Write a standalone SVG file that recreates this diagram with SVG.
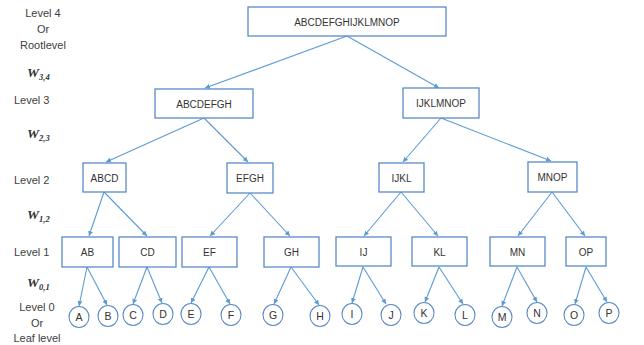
<svg xmlns="http://www.w3.org/2000/svg" width="644" height="345" viewBox="0 0 644 345">
<defs>
<marker id="ah" markerUnits="userSpaceOnUse" markerWidth="6" markerHeight="6" refX="5" refY="3" orient="auto">
<path d="M0,0.5 L5,3 L0,5.5 Z" fill="#5b9bd5"/>
</marker>
<style>
.box{fill:#fff;stroke:#5a8ac6;stroke-width:1.3}
.leaf{fill:#fff;stroke:#5a8ac6;stroke-width:1.1}
.t{font-family:"Liberation Sans",Arial,sans-serif;font-size:10px;fill:#333;text-anchor:middle;dominant-baseline:central}
.lt{font-size:10.5px}
.lbl{font-family:"Liberation Sans",Arial,sans-serif;font-size:11px;fill:#404040}
.c{text-anchor:middle}
.w{font-family:"Liberation Serif","Times New Roman",serif;font-style:italic;font-weight:bold;fill:#333}
.conn line{stroke:#5b9bd5;stroke-width:1.1;marker-end:url(#ah)}
</style>
</defs>
<rect width="644" height="345" fill="#fff"/>

<g id="labels">
<text class="lbl c" x="43" y="17">Level 4</text>
<text class="lbl c" x="43" y="33">Or</text>
<text class="lbl c" x="43" y="49">Rootlevel</text>
<text class="w" x="27" y="77" font-size="13.5">W<tspan font-size="8.5" dy="2.5">3,4</tspan></text>
<text class="lbl" x="14" y="104">Level 3</text>
<text class="w" x="27" y="138" font-size="13.5">W<tspan font-size="8.5" dy="2.5">2,3</tspan></text>
<text class="lbl" x="14" y="184">Level 2</text>
<text class="w" x="27" y="219" font-size="13.5">W<tspan font-size="8.5" dy="2.5">1,2</tspan></text>
<text class="lbl" x="14" y="256">Level 1</text>
<text class="w" x="27" y="287" font-size="13.5">W<tspan font-size="8.5" dy="2.5">0,1</tspan></text>
<text class="lbl c" x="37" y="311">Level 0</text>
<text class="lbl c" x="37" y="327">Or</text>
<text class="lbl c" x="37" y="342">Leaf level</text>
</g>

<g id="connectors" class="conn">
<line x1="347" y1="36" x2="205" y2="88"/>
<line x1="347" y1="36" x2="439" y2="88"/>
<line x1="204" y1="118" x2="106" y2="162"/>
<line x1="204" y1="118" x2="248" y2="162"/>
<line x1="441" y1="118" x2="403" y2="162"/>
<line x1="441" y1="118" x2="551" y2="161"/>
<line x1="104" y1="192" x2="89" y2="236"/>
<line x1="104" y1="192" x2="147" y2="236"/>
<line x1="250" y1="193" x2="210" y2="236"/>
<line x1="250" y1="193" x2="290" y2="236"/>
<line x1="401" y1="192" x2="364" y2="236"/>
<line x1="401" y1="192" x2="438" y2="236"/>
<line x1="552" y1="192" x2="518" y2="236"/>
<line x1="552" y1="192" x2="585" y2="236"/>
<line x1="87" y1="267" x2="79" y2="306"/>
<line x1="87" y1="267" x2="107" y2="305"/>
<line x1="147" y1="267" x2="133" y2="304"/>
<line x1="147" y1="267" x2="162" y2="303"/>
<line x1="209" y1="267" x2="191" y2="303"/>
<line x1="209" y1="267" x2="230" y2="304"/>
<line x1="291" y1="267" x2="274" y2="304"/>
<line x1="291" y1="267" x2="319" y2="305"/>
<line x1="363" y1="267" x2="352" y2="303"/>
<line x1="363" y1="267" x2="386" y2="304"/>
<line x1="439" y1="267" x2="425" y2="302"/>
<line x1="439" y1="267" x2="463" y2="304"/>
<line x1="517" y1="267" x2="502" y2="306"/>
<line x1="517" y1="267" x2="537" y2="302"/>
<line x1="586" y1="267" x2="575" y2="304"/>
<line x1="586" y1="267" x2="607" y2="302"/>
</g>

<g id="n-ABCDEFGHIJKLMNOP"><rect class="box" x="248" y="7" width="198" height="29"/><text class="t" x="347" y="22">ABCDEFGHIJKLMNOP</text></g>
<g id="n-ABCDEFGH"><rect class="box" x="155" y="89" width="98" height="29"/><text class="t" x="204" y="104">ABCDEFGH</text></g>
<g id="n-IJKLMNOP"><rect class="box" x="403" y="88" width="76" height="30"/><text class="t" x="441" y="103">IJKLMNOP</text></g>
<g id="n-ABCD"><rect class="box" x="83" y="163" width="43" height="29"/><text class="t" x="104.5" y="178">ABCD</text></g>
<g id="n-EFGH"><rect class="box" x="227" y="163" width="46" height="30"/><text class="t" x="250" y="178">EFGH</text></g>
<g id="n-IJKL"><rect class="box" x="379" y="163" width="45" height="29"/><text class="t" x="401.5" y="178">IJKL</text></g>
<g id="n-MNOP"><rect class="box" x="528" y="162" width="49" height="30"/><text class="t" x="552.5" y="177">MNOP</text></g>
<g id="n-AB"><rect class="box" x="62" y="237" width="51" height="30"/><text class="t" x="87.5" y="252">AB</text></g>
<g id="n-CD"><rect class="box" x="119" y="237" width="57" height="30"/><text class="t" x="147.5" y="252">CD</text></g>
<g id="n-EF"><rect class="box" x="182" y="237" width="55" height="30"/><text class="t" x="209.5" y="252">EF</text></g>
<g id="n-GH"><rect class="box" x="264" y="237" width="55" height="30"/><text class="t" x="291.5" y="252">GH</text></g>
<g id="n-IJ"><rect class="box" x="336" y="237" width="55" height="29"/><text class="t" x="363.5" y="252">IJ</text></g>
<g id="n-KL"><rect class="box" x="412" y="237" width="55" height="29"/><text class="t" x="439.5" y="252">KL</text></g>
<g id="n-MN"><rect class="box" x="490" y="237" width="55" height="29"/><text class="t" x="517.5" y="252">MN</text></g>
<g id="n-OP"><rect class="box" x="566" y="237" width="40" height="29"/><text class="t" x="586" y="252">OP</text></g>

<g id="n-A"><ellipse class="leaf" cx="79" cy="317" rx="10" ry="10.5"/><text class="t lt" x="79" y="317">A</text></g>
<g id="n-B"><ellipse class="leaf" cx="108" cy="316" rx="10" ry="10.5"/><text class="t lt" x="108" y="316">B</text></g>
<g id="n-C"><ellipse class="leaf" cx="133" cy="315" rx="10" ry="10.5"/><text class="t lt" x="133" y="315">C</text></g>
<g id="n-D"><ellipse class="leaf" cx="163" cy="314" rx="10" ry="10.5"/><text class="t lt" x="163" y="314">D</text></g>
<g id="n-E"><ellipse class="leaf" cx="191" cy="314" rx="10" ry="10.5"/><text class="t lt" x="191" y="314">E</text></g>
<g id="n-F"><ellipse class="leaf" cx="231" cy="315" rx="10" ry="10.5"/><text class="t lt" x="231" y="315">F</text></g>
<g id="n-G"><ellipse class="leaf" cx="273" cy="315" rx="10" ry="10.5"/><text class="t lt" x="273" y="315">G</text></g>
<g id="n-H"><ellipse class="leaf" cx="320" cy="316" rx="10" ry="10.5"/><text class="t lt" x="320" y="316">H</text></g>
<g id="n-I"><ellipse class="leaf" cx="352" cy="314" rx="10" ry="10.5"/><text class="t lt" x="352" y="314">I</text></g>
<g id="n-J"><ellipse class="leaf" cx="391" cy="315" rx="10" ry="10.5"/><text class="t lt" x="391" y="315">J</text></g>
<g id="n-K"><ellipse class="leaf" cx="424" cy="313" rx="10" ry="10.5"/><text class="t lt" x="424" y="313">K</text></g>
<g id="n-L"><ellipse class="leaf" cx="465" cy="315" rx="10" ry="10.5"/><text class="t lt" x="465" y="315">L</text></g>
<g id="n-M"><ellipse class="leaf" cx="502" cy="317" rx="10" ry="10.5"/><text class="t lt" x="502" y="317">M</text></g>
<g id="n-N"><ellipse class="leaf" cx="537" cy="313" rx="10" ry="10.5"/><text class="t lt" x="537" y="313">N</text></g>
<g id="n-O"><ellipse class="leaf" cx="574" cy="315" rx="10" ry="10.5"/><text class="t lt" x="574" y="315">O</text></g>
<g id="n-P"><ellipse class="leaf" cx="609" cy="313" rx="10" ry="10.5"/><text class="t lt" x="609" y="313">P</text></g>
</svg>
